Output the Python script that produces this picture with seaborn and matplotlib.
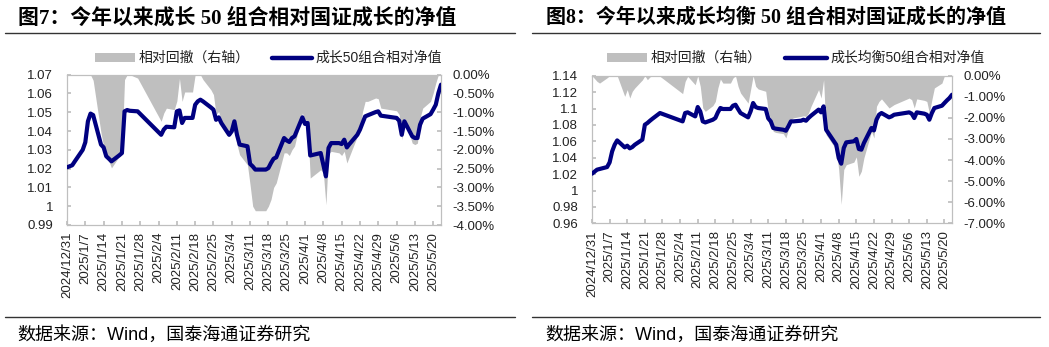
import numpy as np
import pandas as pd
import matplotlib
matplotlib.use("Agg")
import matplotlib.pyplot as plt
from matplotlib.lines import Line2D
from matplotlib.patches import Rectangle
import seaborn as sns

sns.set_theme(style="white")
plt.rcParams['font.family'] = ['Liberation Sans', 'Noto Sans CJK SC', 'DejaVu Sans']
plt.rcParams['axes.unicode_minus'] = False

# ---------------- data ----------------
trade_dates = [
    "2024-12-31", "2025-01-02", "2025-01-03", "2025-01-06", "2025-01-07", "2025-01-08", "2025-01-09",
    "2025-01-10", "2025-01-13", "2025-01-14", "2025-01-15", "2025-01-16", "2025-01-17", "2025-01-20",
    "2025-01-21", "2025-01-22", "2025-01-23", "2025-01-24", "2025-01-27",
    "2025-02-05", "2025-02-06", "2025-02-07", "2025-02-10", "2025-02-11", "2025-02-12", "2025-02-13",
    "2025-02-14", "2025-02-17", "2025-02-18", "2025-02-19", "2025-02-20", "2025-02-21", "2025-02-24",
    "2025-02-25", "2025-02-26", "2025-02-27", "2025-02-28",
    "2025-03-03", "2025-03-04", "2025-03-05", "2025-03-06", "2025-03-07", "2025-03-10", "2025-03-11",
    "2025-03-12", "2025-03-13", "2025-03-14", "2025-03-17", "2025-03-18", "2025-03-19", "2025-03-20",
    "2025-03-21", "2025-03-24", "2025-03-25", "2025-03-26", "2025-03-27", "2025-03-28", "2025-03-31",
    "2025-04-01", "2025-04-02", "2025-04-03", "2025-04-07", "2025-04-08", "2025-04-09", "2025-04-10",
    "2025-04-11", "2025-04-14", "2025-04-15", "2025-04-16", "2025-04-17", "2025-04-18", "2025-04-21",
    "2025-04-22", "2025-04-23", "2025-04-24", "2025-04-25", "2025-04-28", "2025-04-29", "2025-04-30",
    "2025-05-06", "2025-05-07", "2025-05-08", "2025-05-09", "2025-05-12", "2025-05-13", "2025-05-14",
    "2025-05-15", "2025-05-16", "2025-05-19", "2025-05-20", "2025-05-21", "2025-05-22", "2025-05-23",
]

# Fig 7: growth 50 portfolio relative NAV, and relative drawdown (%)
nav_growth50 = [
    1.0207, 1.0218, 1.0239, 1.0300, 1.0340, 1.0452, 1.0493, 1.0485, 1.0328, 1.0313, 1.0266, 1.0253,
    1.0239, 1.0271, 1.0283, 1.0505, 1.0512, 1.0508, 1.0505,
    1.0380, 1.0408, 1.0423, 1.0420, 1.0505, 1.0510, 1.0443, 1.0470, 1.0470, 1.0540, 1.0558, 1.0567,
    1.0558, 1.0526, 1.0514, 1.0460, 1.0473, 1.0443,
    1.0380, 1.0399, 1.0452, 1.0380, 1.0328, 1.0319, 1.0225, 1.0212, 1.0195, 1.0195, 1.0195, 1.0203,
    1.0230, 1.0253, 1.0260, 1.0363, 1.0350, 1.0342, 1.0363, 1.0372, 1.0473,
    1.0438, 1.0443, 1.0270, 1.0283, 1.0221, 1.0159, 1.0310, 1.0336, 1.0336, 1.0331, 1.0354, 1.0313,
    1.0331, 1.0380, 1.0407, 1.0443, 1.0478, 1.0484, 1.0501, 1.0505, 1.0482,
    1.0470, 1.0455, 1.0380, 1.0452, 1.0372, 1.0363, 1.0363, 1.0434, 1.0466, 1.0490, 1.0514, 1.0540,
    1.0602, 1.0647,
]
dd_growth50 = [
    0.0, 0.0, 0.0, 0.0, 0.0, 0.0, 0.0, -0.15, -1.55, -1.90, -2.13, -2.30, -2.48, -2.17, -2.04, -0.13,
    0.0, 0.0, -0.09,
    -1.24, -1.02, -0.89, -0.93, -0.70, -0.10, -0.71, -0.46, -0.46, 0.0, 0.0, 0.0, -0.13, -0.40, -0.53,
    -1.06, -0.98, -1.24,
    -1.64, -1.50, -1.15, -1.86, -2.13, -2.40, -2.93, -3.50, -3.62, -3.62, -3.62, -3.50, -3.32, -3.00,
    -2.88, -2.08, -2.08, -2.15, -2.00, -1.90, -1.02,
    -1.20, -1.30, -2.75, -2.53, -2.60, -3.46, -2.10, -2.04, -2.08, -2.15, -2.04, -2.35, -2.17, -1.64,
    -1.46, -0.98, -0.71, -0.71, -0.62, -0.64, -0.89,
    -0.96, -1.06, -1.73, -1.15, -1.82, -1.86, -1.82, -1.15, -0.89, -0.71, -0.49, -0.22, 0.0, 0.0,
]

# Fig 8: growth-balanced 50 portfolio relative NAV, and relative drawdown (%)
nav_balanced50 = [
    1.0205, 1.0254, 1.0262, 1.0286, 1.0343, 1.0477, 1.0558, 1.0611, 1.0526, 1.0546, 1.0514, 1.0530,
    1.0558, 1.0620, 1.0802, 1.0823, 1.0850, 1.0875, 1.0945,
    1.0843, 1.0945, 1.0953, 1.0904, 1.1018, 1.0965, 1.0843, 1.0830, 1.0863, 1.0884, 1.0953, 1.1006,
    1.0994, 1.0994, 1.1034, 1.1046, 1.0994, 1.0945,
    1.0892, 1.0965, 1.1067, 1.1018, 1.1006, 1.0994, 1.0880, 1.0843, 1.0762, 1.0754, 1.0741, 1.0729,
    1.0782, 1.0843, 1.0843, 1.0851, 1.0863, 1.0851, 1.0884, 1.0912, 1.0986,
    1.0953, 1.1026, 1.0741, 1.0559, 1.0396, 1.0327, 1.0518, 1.0587, 1.0600, 1.0628, 1.0506, 1.0498,
    1.0579, 1.0762, 1.0733, 1.0863, 1.0924, 1.0945, 1.0892, 1.0904, 1.0924,
    1.0953, 1.0937, 1.0884, 1.0953, 1.0937, 1.0924, 1.0863, 1.0945, 1.1006, 1.1034, 1.1067, 1.1099,
    1.1128, 1.1168,
]
dd_balanced50 = [
    0.0, -0.27, -0.35, -0.10, 0.0, 0.0, 0.0, 0.0, -0.98, -0.66, -1.06, -0.74, -0.58, -0.20, 0.0,
    -0.19, -0.06, 0.0, -0.03,
    -0.85, -0.27, -0.03, -0.43, 0.0, -0.50, -1.53, -1.69, -1.42, -1.22, -0.58, -0.16, -0.35, -0.35,
    -0.11, 0.0, -0.50, -0.82,
    -1.30, -0.66, 0.0, -0.50, -0.63, -0.74, -1.70, -2.08, -2.64, -2.69, -2.75, -2.95, -2.56, -2.08,
    -2.00, -1.93, -1.90, -1.93, -1.77, -1.45, -0.66,
    -1.06, -0.19, -2.80, -3.50, -4.45, -6.10, -4.45, -4.22, -4.10, -3.85, -4.77, -4.53, -3.90, -2.64,
    -2.95, -1.45, -1.22, -1.10, -1.53, -1.45, -1.37,
    -1.06, -1.14, -1.53, -1.10, -1.17, -1.22, -1.77, -1.14, -0.58, -0.35, 0.0, 0.0, 0.0, 0.0,
]

tick_dates = [
    "2024-12-31", "2025-01-07", "2025-01-14", "2025-01-21", "2025-01-28", "2025-02-04", "2025-02-11",
    "2025-02-18", "2025-02-25", "2025-03-04", "2025-03-11", "2025-03-18", "2025-03-25", "2025-04-01",
    "2025-04-08", "2025-04-15", "2025-04-22", "2025-04-29", "2025-05-06", "2025-05-13", "2025-05-20",
]
tick_labels = [
    "2024/12/31", "2025/1/7", "2025/1/14", "2025/1/21", "2025/1/28", "2025/2/4", "2025/2/11",
    "2025/2/18", "2025/2/25", "2025/3/4", "2025/3/11", "2025/3/18", "2025/3/25", "2025/4/1",
    "2025/4/8", "2025/4/15", "2025/4/22", "2025/4/29", "2025/5/6", "2025/5/13", "2025/5/20",
]

titles = ["图7：今年以来成长 50 组合相对国证成长的净值",
          "图8：今年以来成长均衡 50 组合相对国证成长的净值"]
legend_area = "相对回撤（右轴）"
legend_lines = ["成长50组合相对净值", "成长均衡50组合相对净值"]
source_text = "数据来源：Wind，国泰海通证券研究"

left_ticks = [
    [0.99, 1.00, 1.01, 1.02, 1.03, 1.04, 1.05, 1.06, 1.07],
    [0.96, 0.98, 1.00, 1.02, 1.04, 1.06, 1.08, 1.10, 1.12, 1.14],
]
left_labels = [
    ["0.99", "1", "1.01", "1.02", "1.03", "1.04", "1.05", "1.06", "1.07"],
    ["0.96", "0.98", "1", "1.02", "1.04", "1.06", "1.08", "1.1", "1.12", "1.14"],
]
right_ticks = [
    [-4.0, -3.5, -3.0, -2.5, -2.0, -1.5, -1.0, -0.5, 0.0],
    [-7.0, -6.0, -5.0, -4.0, -3.0, -2.0, -1.0, 0.0],
]

# ---------------- styling ----------------
W, H = 1049, 347
NAVY = "#000080"
GRAY = "#BFBFBF"
SPINE = "#BFBFBF"
CJK_SANS = ['Liberation Sans', 'Noto Sans CJK SC']
CJK_TITLE = ['Liberation Serif', 'Noto Sans CJK SC']

fig = plt.figure(figsize=(W / 100, H / 100), dpi=100)
fig.patch.set_facecolor("white")


def fx(px):
    return px / W


def fy(py):
    return 1 - py / H


dates = pd.to_datetime(trade_dates)
tdates = pd.to_datetime(tick_dates)

panels = [
    dict(rect=(67, 74.7, 441, 225.0), nav=nav_growth50, dd=dd_growth50, ylim=(0.99, 1.07),
         ddlim=(-4.0, 0.0), title_x=18, title_fs=15, rule=(5, 515), src_x=17,
         leg=(95, 135, 139, 272, 312, 315)),
    dict(rect=(592, 75.7, 952, 223.3), nav=nav_balanced50, dd=dd_balanced50, ylim=(0.96, 1.14),
         ddlim=(-7.0, 0.0), title_x=546, title_fs=14.4, rule=(532, 1040), src_x=545,
         leg=(607, 647, 651, 785, 827, 830)),
]

for i, p in enumerate(panels):
    x0, y0, x1, y1 = p["rect"]
    ax = fig.add_axes([fx(x0), fy(y1), (x1 - x0) / W, (y1 - y0) / H])
    ax2 = ax.twinx()

    # drawdown area on the right axis
    ax2.fill_between(dates, p["dd"], 0, color=GRAY, linewidth=0, zorder=1)
    ax2.set_ylim(*p["ddlim"])
    ax2.set_yticks(right_ticks[i])
    ax2.set_yticklabels([f"{v:.2f}%" for v in right_ticks[i]])

    # relative NAV line on the left axis
    sns.lineplot(x=dates, y=p["nav"], ax=ax, color=NAVY, linewidth=3.0, legend=False,
                 solid_joinstyle="round", solid_capstyle="round", zorder=3)
    ax.set_ylim(*p["ylim"])
    ax.set_yticks(left_ticks[i])
    ax.set_yticklabels(left_labels[i])
    ax.set_xlim(dates[0], dates[-1])
    ax.set_xticks(tdates)
    ax.set_xticklabels(tick_labels, rotation=90, ha="center", va="top")
    ax.set_xlabel("")
    ax.set_ylabel("")

    ax.set_zorder(ax2.get_zorder() + 1)
    ax.patch.set_visible(False)
    ax2.patch.set_facecolor("white")

    for a in (ax, ax2):
        for s in a.spines.values():
            s.set_color(SPINE)
            s.set_linewidth(0.8)
    ax.tick_params(axis="x", direction="in", length=3, color=SPINE, labelsize=9.5, pad=5,
                   labelcolor="#222222", bottom=True)
    ax.tick_params(axis="y", direction="in", length=3, color=SPINE, labelsize=9.5, pad=10,
                   labelcolor="#222222", left=True)
    ax2.tick_params(axis="y", direction="in", length=3, color=SPINE, labelsize=9.5, pad=8.5,
                    labelcolor="#222222", right=True)
    for lab in ax.get_xticklabels() + ax.get_yticklabels() + ax2.get_yticklabels():
        lab.set_family(['Liberation Sans'])

    # title and rules
    fig.text(fx(p["title_x"]), fy(18), titles[i], fontsize=p["title_fs"], fontweight="bold",
             family=CJK_TITLE, ha="left", va="center", color="black")
    r0, r1 = p["rule"]
    fig.add_artist(Line2D([fx(r0), fx(r1)], [fy(33), fy(33)], color="#333333", linewidth=1.0,
                          transform=fig.transFigure))
    fig.add_artist(Line2D([fx(r0), fx(r1)], [fy(316.7), fy(316.7)], color="#333333",
                          linewidth=1.0, transform=fig.transFigure))
    fig.text(fx(p["src_x"]), fy(335), source_text, fontsize=13, family=CJK_SANS,
             ha="left", va="center", color="black")

    # legend
    pa0, pa1, ta, la0, la1, tl = p["leg"]
    fig.add_artist(Rectangle((fx(pa0), fy(62)), fx(pa1 - pa0), 9 / H, facecolor=GRAY,
                             edgecolor="none", transform=fig.transFigure))
    fig.text(fx(ta), fy(57.5), legend_area, fontsize=10, family=CJK_SANS, ha="left",
             va="center", color="#222222")
    fig.add_artist(Line2D([fx(la0), fx(la1)], [fy(57.5), fy(57.5)], color=NAVY, linewidth=3.2,
                          solid_capstyle="round", transform=fig.transFigure))
    fig.text(fx(tl), fy(57.5), legend_lines[i], fontsize=10, family=CJK_SANS, ha="left",
             va="center", color="#222222")

fig.savefig("out.png", dpi=100, facecolor="white")
